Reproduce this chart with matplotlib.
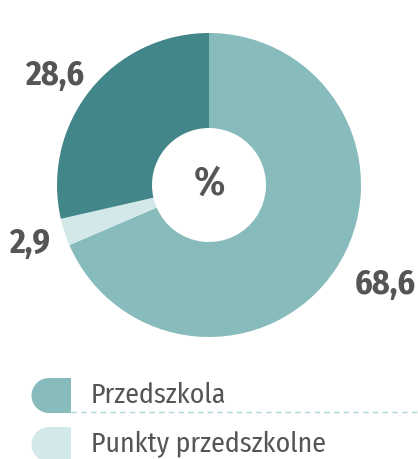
import matplotlib
matplotlib.use("Agg")
import matplotlib.pyplot as plt
from matplotlib.patches import Wedge, Rectangle

# data
labels = ["Przedszkola", "Punkty przedszkolne", "Inne"]
values = [68.6, 2.9, 28.6]
value_text = ["68,6", "2,9", "28,6"]
colors = ["#88bbbc", "#d2e8e9", "#43868a"]

W, H = 418, 459
fig = plt.figure(figsize=(W / 100, H / 100), dpi=100)
ax = fig.add_axes([0, 0, 1, 1])

cx, cy = 209, H - 185
ax.pie(values, colors=colors, startangle=90, counterclock=False,
       center=(cx, cy), radius=152, frame=True,
       wedgeprops=dict(width=95, linewidth=0))
ax.set_xlim(0, W)
ax.set_ylim(0, H)
ax.set_aspect("equal")
ax.axis("off")

font_num = ["Fira Sans Condensed", "DejaVu Sans"]
txt_col = "#555555"
label_pos = [(385, H - 285), (30, H - 244), (55, H - 76)]
for (x, y), t in zip(label_pos, value_text):
    ax.text(x, y, t, ha="center", va="center", fontsize=24.5,
            fontweight="bold", color=txt_col, family=font_num)

ax.text(cx, cy + 1, "%", ha="center", va="center", fontsize=29,
        fontweight="semibold", color=txt_col, family=font_num)

# legend
for i in range(2):
    top = 378 + i * 49
    yc = H - (top + 17.5)
    ax.add_patch(Wedge((49, yc), 17.5, 90, 270, color=colors[i], lw=0))
    ax.add_patch(Rectangle((48.5, yc - 17.5), 22.5, 35, color=colors[i], lw=0))
    ax.text(91, yc, labels[i], ha="left", va="center", fontsize=20,
            color=txt_col, family=font_num)

ax.plot([71, W], [H - 412, H - 412], ls=(0, (4, 3)), color="#a8d8dc", lw=1)

fig.savefig("out.png", dpi=100)
